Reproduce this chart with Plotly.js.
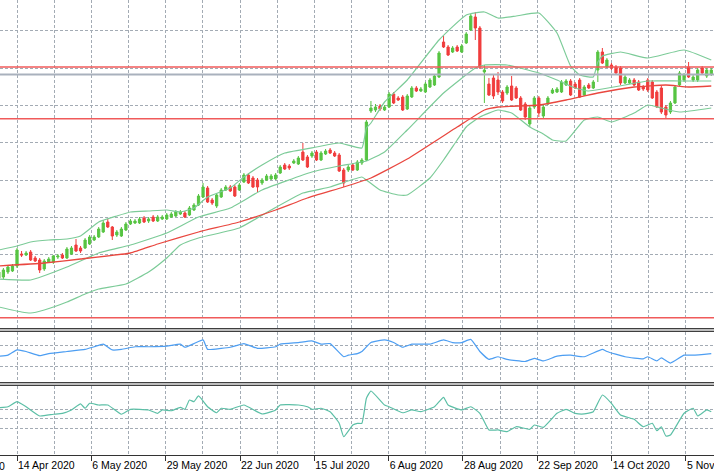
<!DOCTYPE html>
<html>
<head>
<meta charset="utf-8">
<script src="https://cdn.plot.ly/plotly-3.0.1.min.js"></script>
<style>
  html, body { margin: 0; padding: 0; background: #fff; }
  #chart { width: 714px; height: 471px; }
</style>
</head>
<body>
<div id="chart"></div>
<script>
// Daily bars, one per weekday, starting 8 Apr 2020
const firstDay = '2020-04-08';

const open = [
  1.022, 1.023, 1.028, 1.029, 1.034, 1.046, 1.045, 1.048, 1.042, 1.040,
  1.031, 1.038, 1.038, 1.043, 1.045, 1.042, 1.046, 1.055, 1.052, 1.052,
  1.056, 1.060, 1.063, 1.068, 1.078, 1.073, 1.065, 1.064, 1.070, 1.076,
  1.077, 1.077, 1.082, 1.079, 1.083, 1.079, 1.081, 1.081, 1.083, 1.084,
  1.086, 1.087, 1.085, 1.090, 1.095, 1.103, 1.112, 1.100, 1.094, 1.103,
  1.110, 1.113, 1.113, 1.110, 1.118, 1.125, 1.122, 1.120, 1.117, 1.120,
  1.121, 1.121, 1.127, 1.135, 1.134, 1.137, 1.136, 1.148, 1.143, 1.144,
  1.148, 1.140, 1.146, 1.150, 1.147, 1.145, 1.130, 1.130, 1.135, 1.130,
  1.137, 1.140, 1.189, 1.190, 1.194, 1.190, 1.193, 1.206, 1.202, 1.203,
  1.191, 1.203, 1.212, 1.209, 1.208, 1.213, 1.215, 1.223, 1.258, 1.253,
  1.248, 1.253, 1.248, 1.257, 1.270, 1.283, 1.272, 1.228, 1.216, 1.222,
  1.220, 1.208, 1.207, 1.214, 1.212, 1.202, 1.196, 1.176, 1.193, 1.202,
  1.184, 1.196, 1.207, 1.208, 1.208, 1.215, 1.219, 1.216, 1.220, 1.205,
  1.215, 1.212, 1.230, 1.248, 1.233, 1.235, 1.233, 1.232, 1.217, 1.217,
  1.220, 1.218, 1.213, 1.220, 1.218, 1.208, 1.212, 1.193, 1.188, 1.197,
  1.215, 1.220, 1.233, 1.220, 1.220, 1.232, 1.224, 1.226
];
const high = [
  1.030, 1.032, 1.035, 1.036, 1.052, 1.049, 1.049, 1.050, 1.044, 1.042,
  1.041, 1.043, 1.045, 1.046, 1.047, 1.053, 1.054, 1.061, 1.054, 1.062,
  1.065, 1.065, 1.073, 1.080, 1.081, 1.074, 1.070, 1.073, 1.078, 1.081,
  1.081, 1.083, 1.084, 1.083, 1.085, 1.085, 1.085, 1.087, 1.088, 1.090,
  1.090, 1.089, 1.094, 1.097, 1.106, 1.117, 1.114, 1.102, 1.107, 1.112,
  1.115, 1.115, 1.115, 1.117, 1.127, 1.127, 1.124, 1.122, 1.122, 1.126,
  1.126, 1.127, 1.135, 1.137, 1.136, 1.141, 1.144, 1.157, 1.145, 1.149,
  1.150, 1.149, 1.151, 1.152, 1.149, 1.147, 1.132, 1.135, 1.137, 1.140,
  1.142, 1.180, 1.199, 1.196, 1.196, 1.195, 1.208, 1.208, 1.204, 1.205,
  1.206, 1.214, 1.214, 1.213, 1.218, 1.222, 1.226, 1.249, 1.264, 1.255,
  1.254, 1.255, 1.256, 1.268, 1.286, 1.288, 1.274, 1.235, 1.222, 1.225,
  1.228, 1.210, 1.215, 1.224, 1.214, 1.204, 1.198, 1.195, 1.204, 1.204,
  1.195, 1.204, 1.212, 1.213, 1.220, 1.221, 1.221, 1.218, 1.222, 1.215,
  1.217, 1.220, 1.250, 1.252, 1.242, 1.237, 1.235, 1.234, 1.225, 1.222,
  1.222, 1.220, 1.215, 1.222, 1.220, 1.210, 1.214, 1.195, 1.199, 1.215,
  1.229, 1.227, 1.238, 1.225, 1.232, 1.234, 1.232, 1.232
];
const low = [
  1.019, 1.021, 1.026, 1.028, 1.032, 1.043, 1.044, 1.039, 1.038, 1.027,
  1.029, 1.037, 1.036, 1.041, 1.041, 1.041, 1.045, 1.048, 1.047, 1.051,
  1.055, 1.059, 1.062, 1.067, 1.072, 1.060, 1.063, 1.063, 1.069, 1.075,
  1.076, 1.076, 1.077, 1.077, 1.078, 1.078, 1.080, 1.080, 1.082, 1.083,
  1.085, 1.082, 1.084, 1.089, 1.094, 1.102, 1.097, 1.095, 1.092, 1.102,
  1.109, 1.108, 1.103, 1.109, 1.117, 1.116, 1.112, 1.108, 1.115, 1.119,
  1.120, 1.120, 1.126, 1.130, 1.130, 1.136, 1.135, 1.139, 1.132, 1.142,
  1.139, 1.139, 1.145, 1.146, 1.143, 1.128, 1.113, 1.128, 1.129, 1.129,
  1.135, 1.139, 1.187, 1.188, 1.189, 1.189, 1.192, 1.196, 1.199, 1.189,
  1.190, 1.202, 1.208, 1.208, 1.207, 1.212, 1.214, 1.222, 1.252, 1.244,
  1.247, 1.248, 1.247, 1.256, 1.269, 1.260, 1.231, 1.197, 1.204, 1.201,
  1.205, 1.197, 1.205, 1.199, 1.201, 1.189, 1.180, 1.173, 1.191, 1.183,
  1.182, 1.195, 1.206, 1.207, 1.207, 1.214, 1.204, 1.211, 1.202, 1.204,
  1.211, 1.211, 1.218, 1.236, 1.232, 1.230, 1.226, 1.215, 1.216, 1.216,
  1.214, 1.209, 1.209, 1.208, 1.201, 1.192, 1.186, 1.182, 1.186, 1.196,
  1.214, 1.218, 1.222, 1.218, 1.218, 1.225, 1.222, 1.224
];
const close = [
  1.028, 1.030, 1.033, 1.034, 1.050, 1.045, 1.047, 1.040, 1.039, 1.030,
  1.039, 1.041, 1.044, 1.044, 1.042, 1.051, 1.052, 1.049, 1.049, 1.060,
  1.063, 1.063, 1.071, 1.077, 1.073, 1.064, 1.068, 1.071, 1.076, 1.079,
  1.079, 1.081, 1.078, 1.081, 1.079, 1.083, 1.083, 1.085, 1.086, 1.088,
  1.088, 1.083, 1.092, 1.095, 1.104, 1.113, 1.098, 1.097, 1.105, 1.110,
  1.113, 1.109, 1.104, 1.115, 1.125, 1.117, 1.113, 1.113, 1.120, 1.124,
  1.124, 1.125, 1.133, 1.131, 1.132, 1.139, 1.142, 1.140, 1.133, 1.147,
  1.140, 1.147, 1.149, 1.147, 1.144, 1.129, 1.117, 1.133, 1.130, 1.138,
  1.140, 1.178, 1.192, 1.193, 1.191, 1.193, 1.206, 1.197, 1.200, 1.190,
  1.204, 1.212, 1.209, 1.211, 1.216, 1.220, 1.224, 1.247, 1.253, 1.245,
  1.252, 1.249, 1.254, 1.266, 1.284, 1.272, 1.233, 1.230, 1.205, 1.204,
  1.208, 1.199, 1.213, 1.200, 1.202, 1.190, 1.183, 1.192, 1.202, 1.187,
  1.193, 1.202, 1.210, 1.211, 1.218, 1.219, 1.205, 1.212, 1.203, 1.213,
  1.212, 1.218, 1.248, 1.237, 1.240, 1.232, 1.227, 1.217, 1.223, 1.220,
  1.215, 1.210, 1.211, 1.210, 1.202, 1.193, 1.188, 1.185, 1.197, 1.213,
  1.227, 1.225, 1.223, 1.223, 1.230, 1.227, 1.230, 1.230
];

// Bollinger bands, read at bar numbers
const bbUpperAt = [0, 4, 7, 11, 15, 18, 22, 26, 29, 33, 37, 40, 43, 46, 51, 54, 58, 63, 70, 75,
  80, 81, 82, 85, 90, 97, 103, 107, 110, 114, 119, 123, 126, 128, 131, 132, 133, 137, 143, 151, 157];
const bbUpper = [1.050, 1.054, 1.058, 1.060, 1.061, 1.064, 1.078, 1.084, 1.088, 1.089, 1.090, 1.088,
  1.092, 1.103, 1.112, 1.123, 1.135, 1.147, 1.153, 1.157, 1.152, 1.172, 1.177, 1.198, 1.220, 1.260,
  1.285, 1.288, 1.282, 1.284, 1.287, 1.267, 1.234, 1.225, 1.223, 1.238, 1.244, 1.248, 1.242, 1.250, 1.240];
const bbMidAt = [0, 7, 15, 22, 29, 37, 44, 51, 58, 69, 75, 81, 85, 90, 98, 105, 107, 112, 119, 123,
  127, 130, 133, 138, 143, 150, 157];
const bbMid = [1.021, 1.020, 1.033, 1.047, 1.055, 1.067, 1.083, 1.092, 1.110, 1.128, 1.134, 1.139,
  1.148, 1.170, 1.207, 1.232, 1.235, 1.235, 1.227, 1.220, 1.212, 1.209, 1.211, 1.215, 1.219, 1.219, 1.219];
const bbLowAt = [0, 5, 7, 10, 15, 19, 22, 28, 33, 37, 40, 44, 53, 60, 67, 73, 80, 81, 84, 88, 90, 95,
  98, 101, 103, 106, 110, 113, 117, 120, 122, 125, 129, 132, 135, 140, 143, 146, 150, 157];
const bbLow = [0.993, 0.988, 0.987, 0.990, 0.998, 1.006, 1.011, 1.016, 1.028, 1.042, 1.055, 1.062,
  1.072, 1.090, 1.107, 1.113, 1.123, 1.120, 1.110, 1.105, 1.105, 1.122, 1.140, 1.160, 1.173, 1.183,
  1.190, 1.187, 1.173, 1.166, 1.160, 1.159, 1.180, 1.183, 1.178, 1.187, 1.195, 1.192, 1.188, 1.192];

// red moving average
const maAt = [0, 10, 18, 29, 35, 44, 53, 61, 68, 76, 82, 90, 101, 107, 110, 119, 125, 132, 140, 147, 152, 157];
const ma = [1.034, 1.037, 1.041, 1.047, 1.056, 1.068, 1.078, 1.090, 1.102, 1.113, 1.122, 1.141,
  1.173, 1.190, 1.193, 1.195, 1.200, 1.207, 1.213, 1.215, 1.213, 1.214];

// horizontal objects on the price window
const redLevels = [1.233, 1.1813, 0.9823];
const bidLevel = 1.2255;

// first sub-window (blue)
const blueAt = [0, 2, 4, 6, 9, 11, 15, 19, 21, 23, 25, 27, 30, 33, 37, 40, 41, 43, 45, 46, 49, 51, 54,
  57, 61, 62, 66, 69, 71, 73, 76, 77, 79, 80, 82, 85, 87, 89, 91, 95, 98, 100, 102, 104, 106, 108, 110,
  112, 116, 118, 120, 123, 126, 129, 133, 134, 138, 142, 143, 145, 146, 148, 151, 153, 157];
const blue = [50, 52, 62, 59, 51, 55, 59, 63, 68, 73, 62, 63, 68, 68, 69, 73, 67, 74, 81, 63, 65, 67, 74,
  65, 68, 73, 76, 79, 73, 74, 49, 52, 55, 59, 76, 81, 76, 67, 73, 73, 81, 76, 76, 82, 59, 44, 49,
  44, 40, 46, 41, 50, 52, 49, 63, 59, 49, 45, 49, 41, 47, 37, 52, 52, 55];
const blueLevels = [30, 70];

// second sub-window (CCI style)
const cciAt = [0, 2, 4, 6, 9, 12, 14, 16, 18, 19, 20, 22, 24, 27, 29, 33, 35, 36, 38, 40, 41, 42, 43, 44,
  46, 48, 49, 51, 54, 58, 61, 62, 66, 68, 69, 71, 73, 75, 76, 78, 79, 80, 81, 82, 85, 86, 89, 91, 93, 96,
  98, 99, 102, 104, 106, 108, 110, 112, 114, 117, 118, 120, 123, 125, 127, 129, 131, 133, 135, 137, 140,
  142, 144, 145, 146, 147, 148, 151, 153, 154, 156, 157];
const cci = [117, 127, 180, 127, 30, 48, 58, 93, 156, 111, 163, 145, 145, 48, 100, 93, 58, 93, 85, 121,
  100, 198, 180, 240, 127, 64, 111, 100, 145, 51, 93, 145, 145, 127, 100, 111, 75, -47, -188, -65, -47,
  -47, 216, 292, 145, 127, 64, 93, 75, 127, 226, 145, 93, 127, 58, -117, -117, -135, -83, -110, -65,
  -89, 58, 100, 58, 51, 75, 250, 163, 40, -5, -83, -47, -125, -83, -181, -170, 58, 111, 30, 93, 75];
const cciLevels = [-100, 0, 100];

// time scale: a label every 16.38 bars, starting at 14 Apr 2020
const firstLabelDay = '2020-04-14';
const labelStep = 16.38;

const MONTHS = ['Jan', 'Feb', 'Mar', 'Apr', 'May', 'Jun', 'Jul', 'Aug', 'Sep', 'Oct', 'Nov', 'Dec'];

function barDate(i) {
  const d = new Date(firstDay + 'T00:00:00Z');
  const step = i >= 0 ? 1 : -1;
  let n = Math.abs(i);
  while (n > 0) {
    d.setUTCDate(d.getUTCDate() + step);
    const wd = d.getUTCDay();
    if (wd !== 0 && wd !== 6) n--;
  }
  return d;
}
function fmt(d) {
  return d.getUTCDate() + ' ' + MONTHS[d.getUTCMonth()] + ' ' + d.getUTCFullYear();
}

const bars = open.map((_, i) => i);
const dates = bars.map(i => barDate(i).toISOString().slice(0, 10));
const xRange = [0.25, 157.6];

const labelFrom = dates.indexOf(firstLabelDay);
const tickvals = [], ticktext = [], minorvals = [];
for (let t = labelFrom; t <= xRange[1]; t += labelStep) {
  tickvals.push(t);
  ticktext.push(fmt(barDate(Math.round(t))));
}
for (let t = labelFrom + labelStep / 2; t <= xRange[1]; t += labelStep) minorvals.push(t);
const hiddenLabelAt = labelFrom - labelStep;

const UP = '#57c443', DOWN = '#f03c3c';
const BAND = '#7ccb98', MA = '#e9473f';
const GRID = '#a3abb4', DASH = '3px,2px';
const FONT = 'Liberation Sans, Arial, sans-serif';

function lineTrace(x, y, color, yaxis, width) {
  return {
    type: 'scatter', mode: 'lines', x: x, y: y, yaxis: yaxis,
    line: {color: color, width: width || 1.2, shape: 'spline', smoothing: 0.4},
    hoverinfo: 'skip'
  };
}

const traces = [
  {
    type: 'candlestick', x: bars, open: open, high: high, low: low, close: close,
    text: dates, yaxis: 'y',
    increasing: {line: {color: UP, width: 1}, fillcolor: UP},
    decreasing: {line: {color: DOWN, width: 1}, fillcolor: DOWN},
    whiskerwidth: 0
  },
  lineTrace(bbUpperAt, bbUpper, BAND, 'y'),
  lineTrace(bbMidAt, bbMid, BAND, 'y'),
  lineTrace(bbLowAt, bbLow, BAND, 'y'),
  lineTrace(maAt, ma, MA, 'y', 1.3),
  lineTrace(blueAt, blue, '#4d9ef2', 'y2'),
  lineTrace(cciAt, cci, '#5cbfa6', 'y3')
];

// window layout (main price window, two sub-windows with separators)
const H = 455;
const px = p => 1 - p / H;

const hidden = {showticklabels: false, ticks: '', zeroline: false, showline: false,
  showgrid: true, gridcolor: GRID, griddash: DASH, gridwidth: 1, fixedrange: true};

const shapes = [];
redLevels.forEach(v => shapes.push({type: 'line', xref: 'paper', yref: 'y', x0: 0, x1: 1, y0: v, y1: v,
  line: {color: '#f05a5a', width: 1.6}}));
shapes.push({type: 'line', xref: 'paper', yref: 'y', x0: 0, x1: 1, y0: bidLevel, y1: bidLevel,
  line: {color: '#a9b1bd', width: 2}});
[[328.5, 331.5], [382.5, 385.5]].forEach(s => shapes.push({type: 'rect', xref: 'paper', yref: 'paper',
  x0: -0.01, x1: 1.01, y0: px(s[1]), y1: px(s[0]), fillcolor: '#bdbdbd', line: {color: '#3f3f3f', width: 1.2}}));

const layout = {
  width: 714, height: 471,
  margin: {l: 0, r: 0, t: 0, b: 16, pad: 0},
  paper_bgcolor: '#ffffff', plot_bgcolor: '#ffffff',
  showlegend: false,
  xaxis: {
    type: 'linear', range: xRange, anchor: 'y3', fixedrange: true,
    rangeslider: {visible: false},
    tickmode: 'array', tickvals: tickvals, ticktext: ticktext,
    ticks: 'outside', ticklen: 5, tickwidth: 1, tickcolor: '#333',
    ticklabelposition: 'outside right', ticklabeloverflow: 'allow',
    tickfont: {family: FONT, size: 10.5, color: '#000'},
    showgrid: true, gridcolor: GRID, griddash: DASH, gridwidth: 1,
    minor: {tickmode: 'array', tickvals: minorvals, ticks: '', showgrid: true,
      gridcolor: GRID, griddash: DASH, gridwidth: 1},
    showline: true, linecolor: '#333', linewidth: 1, zeroline: false
  },
  yaxis: Object.assign({}, hidden, {domain: [px(328.5), 1], range: [0.9715, 1.300],
    tickmode: 'linear', tick0: 1.2693, dtick: 0.03733}),
  yaxis2: Object.assign({}, hidden, {domain: [px(382.5), px(331.5)], range: [0, 97],
    tickmode: 'array', tickvals: blueLevels}),
  yaxis3: Object.assign({}, hidden, {domain: [0, px(385.5)], range: [-380, 350],
    tickmode: 'array', tickvals: cciLevels}),
  shapes: shapes,
  annotations: [{
    xref: 'paper', yref: 'paper',
    x: (hiddenLabelAt - xRange[0]) / (xRange[1] - xRange[0]), y: 0,
    xanchor: 'left', yanchor: 'top', yshift: -3, xshift: 1,
    text: fmt(barDate(Math.round(hiddenLabelAt))), showarrow: false,
    font: {family: FONT, size: 10.5, color: '#000'}
  }]
};

Plotly.newPlot('chart', traces, layout, {staticPlot: true, displayModeBar: false});
</script>
</body>
</html>
